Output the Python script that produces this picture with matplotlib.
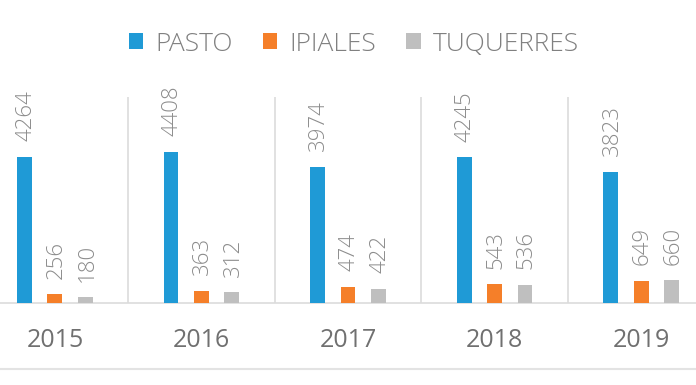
import numpy as np
import matplotlib
matplotlib.use("Agg")
import matplotlib.pyplot as plt
from matplotlib.lines import Line2D

plt.rcParams['font.family'] = ['Open Sans', 'DejaVu Sans']
plt.rcParams['font.weight'] = 'light'

years = ["2015", "2016", "2017", "2018", "2019"]
pasto = [4264, 4408, 3974, 4245, 3823]
ipiales = [256, 363, 474, 543, 649]
tuquerres = [180, 312, 422, 536, 660]

series = [("PASTO", pasto, "#1f9ad6"),
          ("IPIALES", ipiales, "#f57f29"),
          ("TUQUERRES", tuquerres, "#bfbfbf")]

fig = plt.figure(figsize=(6.96, 3.85), dpi=100)
ax = fig.add_axes([0, 0.213, 1, 0.535])

x = np.arange(len(years))
w = 0.102
step = 0.208
handles = []
for k, (name, vals, col) in enumerate(series):
    pos = x + (k - 1) * step
    b = ax.bar(pos, vals, width=w, color=col, label=name, zorder=3)
    handles.append(b)
    for xi, v in zip(pos, vals):
        ax.annotate(str(v), (xi, v), xytext=(1, 11), textcoords="offset points",
                    rotation=90, ha="center", va="bottom", fontsize=16,
                    color="#8c8c8c")

ax.set_xlim(-0.375, 4.375)
ax.set_ylim(0, 6000)
ax.set_yticks([])
ax.set_xticks(x)
ax.set_xticklabels(years, fontsize=18, color="#707070", fontweight="normal")
ax.tick_params(axis="x", length=0, pad=18)
ax.set_xticks(x[:-1] + 0.5, minor=True)
ax.tick_params(axis="x", which="minor", length=0)
ax.grid(which="minor", axis="x", color="#dcdcdc", lw=1.2, zorder=0)
for s in ["top", "left", "right"]:
    ax.spines[s].set_visible(False)
ax.spines["bottom"].set_color("#dcdcdc")
ax.spines["bottom"].set_linewidth(1.2)

fig.legend(handles=handles, loc="center", bbox_to_anchor=(0.508, 0.885),
           ncol=3, frameon=False, fontsize=19, labelcolor="#808080",
           handlelength=0.55, handleheight=0.55, handletextpad=0.45,
           columnspacing=1.15)

fig.add_artist(Line2D([0, 1], [0.042, 0.042], color="#e3e3e3", lw=1.5,
                      transform=fig.transFigure))

fig.savefig("out.png", dpi=100)
